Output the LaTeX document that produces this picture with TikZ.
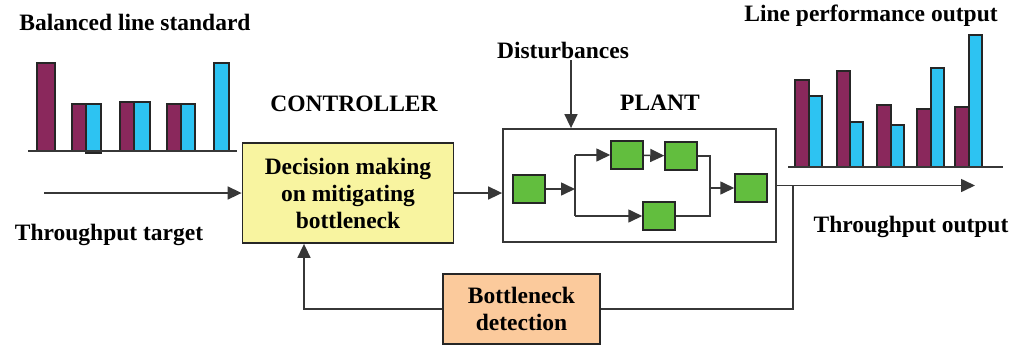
\documentclass[tikz,border=0pt]{standalone}
\usepackage{fontspec}
\setmainfont{Liberation Serif}[BoldFont={Liberation Serif Bold}]
\usetikzlibrary{arrows.meta,calc}

\definecolor{barred}{RGB}{138,40,92}
\definecolor{barblue}{RGB}{45,195,242}
\definecolor{boxgreen}{RGB}{98,190,62}
\definecolor{ctrlyellow}{RGB}{248,244,160}
\definecolor{detorange}{RGB}{251,202,156}
\definecolor{linegray}{RGB}{55,55,55}

\tikzset{
  lbl/.style={font=\bfseries\fontsize{23.5}{27}\selectfont, inner sep=0pt, align=center},
  block/.style={draw=black!85, line width=1.8pt, inner sep=0pt, align=center,
    font=\bfseries\fontsize{23.5}{27}\selectfont},
  station/.style={draw=black!85, fill=boxgreen, line width=1.5pt,
    minimum width=32pt, minimum height=28pt, inner sep=0pt},
  conn/.style={draw=linegray, line width=1.6pt},
  arr/.style={conn, -{Triangle[length=14pt,width=13pt]}},
  redbar/.style={fill=barred, draw=black!85, line width=1.4pt},
  bluebar/.style={fill=barblue, draw=black!85, line width=1.4pt},
  axis/.style={draw=linegray, line width=1.6pt},
}

\begin{document}
\begin{tikzpicture}[x=1pt,y=-1pt]
\useasboundingbox (0,0) rectangle (1014,349);

% ---------- titles and labels ----------
\node[lbl] (tbal) at (135,22) {Balanced line standard};
\node[lbl] (tperf) at (871,16) {Line performance output};
\node[lbl] (tctrl) at (354,104) {CONTROLLER};
\node[lbl] (tplant) at (660,103) {PLANT};
\node[lbl] (tdist) at (563,50) {Disturbances};
\node[lbl] (tin) at (109,235) {Throughput target};
\node[lbl] (tout) at (911,227) {Throughput output};

% ---------- balanced line chart ----------
\draw[redbar]  (37,63) rectangle (55,151);
\draw[redbar]  (72,104) rectangle (86,151);
\draw[bluebar] (86,104) rectangle (101,153);
\draw[redbar]  (120,102) rectangle (134,151);
\draw[bluebar] (134,102) rectangle (150,151);
\draw[redbar]  (167,104) rectangle (181,151);
\draw[bluebar] (181,104) rectangle (195,151);
\draw[bluebar] (214,63) rectangle (229,151);
\draw[axis] (28,151) -- (237,151);

% ---------- line performance chart ----------
\draw[redbar]  (795,80) rectangle (809,167);
\draw[bluebar] (809,96) rectangle (822,167);
\draw[redbar]  (837,71) rectangle (850,167);
\draw[bluebar] (850,122) rectangle (863,167);
\draw[redbar]  (877,105) rectangle (891,167);
\draw[bluebar] (891,125) rectangle (904,167);
\draw[redbar]  (917,109) rectangle (931,167);
\draw[bluebar] (931,68) rectangle (944,167);
\draw[redbar]  (955,107) rectangle (969,167);
\draw[bluebar] (969,35) rectangle (982,167);
\draw[axis] (788,167) -- (1003,167);

% ---------- main blocks ----------
\node[block, fill=ctrlyellow, minimum width=211pt, minimum height=100pt]
  (ctrl) at (348,193) {Decision making\\on mitigating\\bottleneck};
\node[block, draw=linegray, fill=white, minimum width=273pt, minimum height=113pt]
  (plant) at (639.5,185.5) {};
\node[block, fill=detorange, minimum width=157pt, minimum height=70pt]
  (det) at (521.5,309) {Bottleneck\\detection};

% ---------- stations inside the plant ----------
\node[station] (s1) at (529,189) {};
\node[station] (s2) at (627,155) {};
\node[station] (s3) at (681,156) {};
\node[station] (s4) at (659,216) {};
\node[station] (s5) at (751,188) {};

\coordinate (split) at (575,189);
\coordinate (merge) at (710,188);
\draw[arr] (s1) -- (split);
\draw[conn] (split |- s2) -- (split |- s4);
\draw[arr] (split |- s2) -- (s2);
\draw[arr] (split |- s4) -- (s4);
\draw[arr] (s2) -- (s3);
\draw[conn] (s3.east) -- (merge |- s3) -- (merge |- s4) -- (s4.east);
\draw[arr] (merge) -- (s5);

% ---------- signal flow ----------
\coordinate (tgt) at (44,193);
\draw[arr] (tgt) -- (ctrl.west);
\draw[arr] (ctrl.east) -- (ctrl.east -| plant.west);
\coordinate (dtop) at (571,60);
\draw[arr] (dtop) -- (dtop |- plant.north);
\coordinate (outend) at (975,185.5);
\draw[arr] (plant.east) -- (outend);
\coordinate (tap) at (793,185.5);
\draw[conn] (tap) -- (tap |- det.east) -- (det.east);
\coordinate (fb) at (304,309);
\draw[arr] (det.west) -- (fb) -- (fb |- ctrl.south);
\end{tikzpicture}
\end{document}
